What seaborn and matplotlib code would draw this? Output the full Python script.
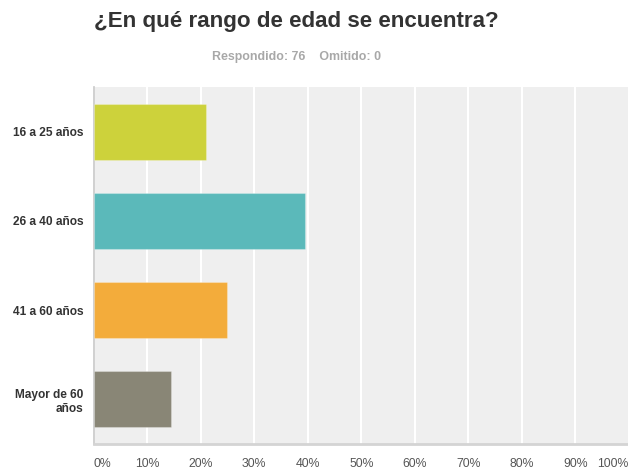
import matplotlib
matplotlib.use("Agg")
import matplotlib.pyplot as plt
import seaborn as sns
import pandas as pd

categories = ["16 a 25 años", "26 a 40 años", "41 a 60 años", "Mayor de 60\naños"]
values = [21.05, 39.47, 25.00, 14.47]
colors = ["#cdd23b", "#5bb9ba", "#f3ac3b", "#898676"]
xticks = [0, 10, 20, 30, 40, 50, 60, 70, 80, 90, 100]
xtick_labels = [f"{t}%" for t in xticks]
title = "¿En qué rango de edad se encuentra?"
subtitle = "Respondido: 76    Omitido: 0"

sns.set_theme(style="white")
plt.rcParams["font.family"] = ["Liberation Sans", "DejaVu Sans"]

df = pd.DataFrame({"cat": categories, "val": values})

W, H = 628, 470
fig = plt.figure(figsize=(W / 100, H / 100), dpi=100)
ax = fig.add_axes([93.5 / W, 1 - 444 / H, 535.5 / W, 357 / H])
ax.set_facecolor("#efefef")

sns.barplot(data=df, x="val", y="cat", hue="cat", palette=colors, order=categories,
            width=0.63, orient="h", legend=False, ax=ax, zorder=3, saturation=1,
            edgecolor="#ffffff40", linewidth=0.8)

ax.set_xlim(0, 100)
ax.set_xticks(xticks)
ax.set_xticklabels(xtick_labels)
for i, lab in enumerate(ax.get_xticklabels()):
    if i == 0:
        lab.set_ha("left")
    elif i == len(xticks) - 1:
        lab.set_ha("right")
ax.tick_params(axis="x", length=0, pad=10, labelsize=8.8, labelcolor="#555555")
ax.tick_params(axis="y", length=0, pad=7, labelsize=8.6, labelcolor="#333333")
for lab in ax.get_yticklabels():
    lab.set_fontweight("bold")
    lab.set_ha("right")
ax.grid(axis="x", color="white", linewidth=1.5, zorder=0)
ax.set_axisbelow(True)
ax.set_xlabel("")
ax.set_ylabel("")
for s in ["top", "right"]:
    ax.spines[s].set_visible(False)
ax.spines["left"].set_color("#c8c8c8")
ax.spines["left"].set_linewidth(1.2)
ax.spines["bottom"].set_color("#d4d4d4")
ax.spines["bottom"].set_linewidth(2)

fig.text(93.5 / W, 1 - 22 / H, title, fontsize=16.1, fontweight="bold",
         color="#333333", ha="left", va="center")
fig.text(212 / W, 1 - 57 / H, subtitle, fontsize=8.9, fontweight="bold",
         color="#a8a8a8", ha="left", va="center")

fig.savefig("out.png", dpi=100)
